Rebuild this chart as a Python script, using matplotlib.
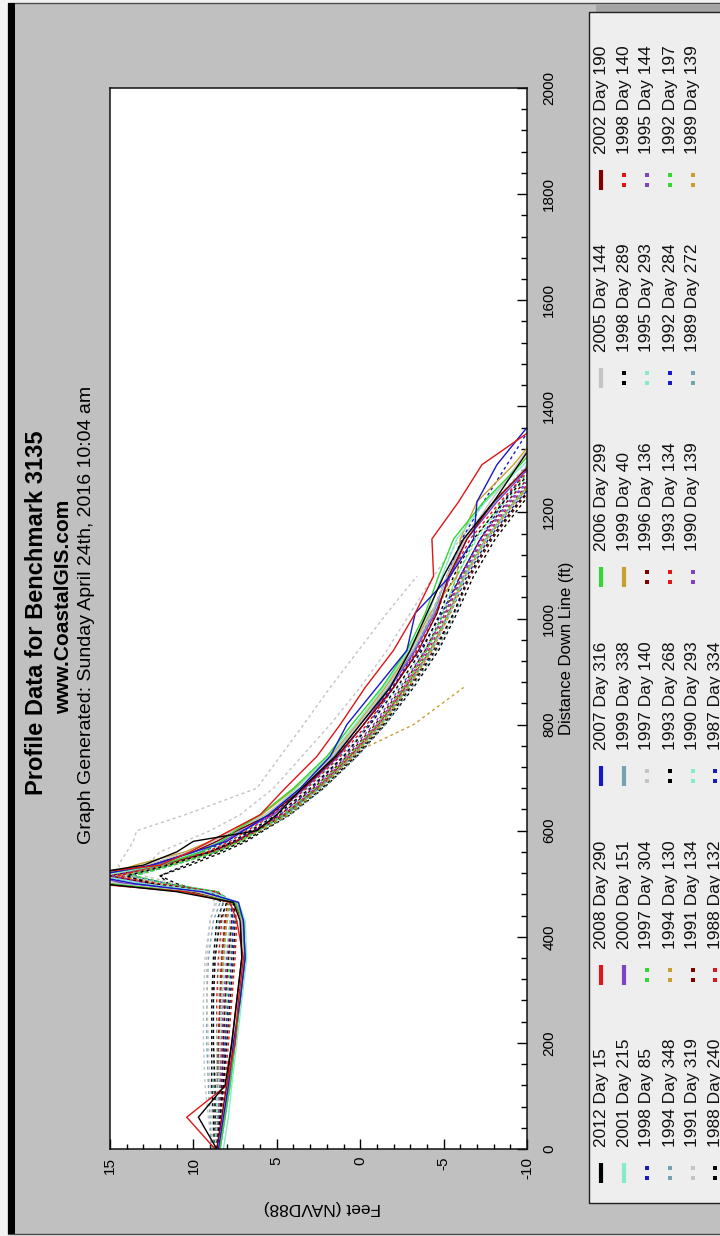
import numpy as np
import matplotlib
matplotlib.use("Agg")
import matplotlib.pyplot as plt
from matplotlib.patches import Rectangle

plt.rcParams['font.family'] = ['Liberation Sans', 'DejaVu Sans']
plt.rcParams['axes.unicode_minus'] = False

W, H, DPI = 720, 1236, 100
nan = np.nan

# ---------------- data ----------------
distance_ft = [0, 60, 120, 200, 280, 360, 430, 465, 485, 500, 515, 535, 560, 580,
               600, 630, 680, 740, 800, 870, 940, 1010, 1080, 1150, 1220, 1290, 1360]

series_labels = [
    "2012 Day 15", "2008 Day 290", "2007 Day 316", "2006 Day 299", "2005 Day 144", "2002 Day 190",
    "2001 Day 215", "2000 Day 151", "1999 Day 338", "1999 Day 40", "1998 Day 289", "1998 Day 140",
    "1998 Day 85", "1997 Day 304", "1997 Day 140", "1996 Day 136", "1995 Day 293", "1995 Day 144",
    "1994 Day 348", "1994 Day 130", "1993 Day 268", "1993 Day 134", "1992 Day 284", "1992 Day 197",
    "1991 Day 319", "1991 Day 134", "1990 Day 293", "1990 Day 139", "1989 Day 272", "1989 Day 139",
    "1988 Day 240", "1988 Day 132", "1987 Day 334",
]
palette = ['#000000', '#e01515', '#1818c8', '#33d633', '#c4c4c4',
           '#800000', '#86ecc8', '#8040c8', '#74a2b0', '#c8a032']
series_colors = [palette[i % 10] for i in range(len(series_labels))]
series_dashed = [False] * 10 + [True] * 23

elev_2012_d15 = [8.6, 9.7, 8.1, 7.7, 7.4, 7.1, 7.2, 7.6, 11.0, 15.5, 17.0, 13.0, 11.0, 10.0, 6.2, 5.0, 3.5, 1.5, 0.0, -1.8, -3.0, -4.0, -5.0, -6.2, -8.0, -9.5, -11.0]
elev_2008_d290 = [8.7, 10.4, 8.0, 7.5, 7.3, 7.0, 7.4, 7.8, 10.5, 16.0, 17.5, 12.0, 10.2, 9.0, 7.8, 6.0, 4.5, 2.6, 1.2, -0.3, -2.0, -3.3, -4.4, -4.3, -5.9, -7.3, -10.5]
elev_2007_d316 = [8.5, 8.2, 7.9, 7.6, 7.2, 6.9, 7.0, 7.3, 9.5, 13.5, 16.0, 12.5, 10.0, 8.0, 7.0, 5.5, 3.6, 1.8, 0.8, -1.0, -2.8, -3.3, -5.4, -6.8, -7.0, -8.2, -10.0]
elev_2006_d299 = [8.4, 8.1, 7.8, 7.5, 7.2, 6.9, 7.0, 7.5, 10.5, 15.0, 16.5, 12.0, 9.5, 8.3, 7.5, 6.0, 4.0, 2.0, 0.5, -1.3, -2.8, -3.9, -4.7, -5.6, -7.4, -9.6, -11.5]
elev_2005_d144 = [8.5, 8.2, 7.9, 7.6, 7.3, 7.0, 7.1, 7.4, 9.8, 14.5, 16.0, 12.8, 10.3, 8.8, 7.6, 5.7, 3.6, 1.7, 0.1, -1.6, -3.1, -4.3, -5.2, -6.3, -7.8, -9.4, -11.0]
elev_2002_d190 = [8.6, 8.3, 8.0, 7.7, 7.4, 7.1, 7.1, 7.5, 10.2, 15.2, 17.0, 12.6, 10.0, 8.6, 7.4, 5.4, 3.4, 1.4, -0.2, -2.0, -3.5, -4.6, -5.3, -6.4, -8.0, -10.2, -12.0]
elev_2001_d215 = [8.2, 7.9, 7.7, 7.4, 7.1, 6.8, 6.9, 7.3, 9.0, 13.0, 15.5, 12.0, 9.8, 8.5, 7.4, 5.6, 3.8, 1.9, 0.3, -1.4, -2.9, -4.1, -4.9, -5.8, -7.5, -9.8, -12.0]
elev_2000_d151 = [8.5, 8.2, 7.9, 7.5, 7.2, 6.9, 7.0, 7.4, 9.6, 14.0, 16.2, 12.2, 9.6, 8.2, 7.1, 5.2, 3.3, 1.3, -0.2, -1.8, -3.3, -4.5, -5.4, -6.4, -8.2, -10.3, -12.0]
elev_1999_d338 = [8.4, 8.1, 7.8, 7.5, 7.2, 6.9, 7.0, 7.4, 9.5, 14.2, 16.4, 12.4, 9.9, 8.4, 7.3, 5.5, 3.5, 1.6, 0.0, -1.7, -3.2, -4.4, -5.2, -6.2, -8.1, -10.1, -12.0]
elev_1999_d40 = [8.5, 8.2, 7.9, 7.6, 7.3, 7.0, 7.0, 7.5, 10.0, 15.0, 15.2, 13.5, 10.5, 9.0, 7.8, 5.9, 3.9, 1.8, 0.2, -1.5, -3.0, -4.2, -5.8, -6.0, -7.0, -9.2, -11.0]
elev_1998_d289 = [8.6, 8.4, 8.2, 8.0, 7.8, 7.6, 7.5, 7.6, 9.0, 12.5, 14.0, 11.5, 9.0, 7.6, 6.6, 5.0, 3.0, 1.0, -0.6, -2.2, -3.7, -4.8, -5.6, -6.8, -8.6, -10.6, -12.0]
elev_1998_d140 = [8.5, 8.3, 8.1, 7.9, 7.7, 7.5, 7.4, 7.6, 8.8, 12.0, 14.5, 12.0, 9.2, 7.8, 6.8, 5.2, 3.2, 1.2, -0.4, -2.0, -3.4, -4.6, -5.4, -6.6, -8.4, -10.4, -12.0]
elev_1998_d85 = [8.6, 8.4, 8.2, 8.1, 7.9, 7.7, 7.6, 7.8, 9.5, 13.0, 15.5, 12.5, 9.5, 8.0, 7.0, 5.3, 3.4, 1.4, -0.2, -1.9, -3.6, -4.9, -6.0, -7.2, -8.6, -10.2, -12.0]
elev_1997_d304 = [8.4, 8.3, 8.2, 8.1, 8.0, 7.8, 7.6, 7.7, 8.5, 11.5, 13.5, 11.2, 8.6, 7.2, 6.2, 4.6, 2.7, 0.7, -1.0, -2.6, -4.0, -5.0, -5.8, -6.9, -8.5, -10.5, -12.0]
elev_1997_d140 = [8.8, 8.9, 9.0, 9.1, 9.2, 9.2, 9.0, 8.6, 9.5, 12.0, 14.0, 14.5, 14.0, 13.6, 13.4, 10.5, 6.2, 4.8, 3.4, 1.8, 0.1, -1.6, -3.4, nan, nan, nan, nan]
elev_1996_d136 = [8.5, 8.4, 8.3, 8.2, 8.1, 7.9, 7.7, 7.6, 8.6, 12.5, 15.0, 12.0, 9.0, 7.4, 6.4, 4.8, 2.8, 0.8, -0.9, -2.5, -3.9, -5.0, -6.0, -7.2, -8.8, -10.8, -12.0]
elev_1995_d293 = [8.7, 8.6, 8.5, 8.4, 8.3, 8.1, 7.8, 7.7, 9.0, 13.5, 15.8, 12.4, 9.3, 7.8, 6.7, 5.0, 3.1, 1.1, -0.6, -2.3, -3.8, -4.9, -5.8, -7.0, -8.7, -10.7, -12.0]
elev_1995_d144 = [8.6, 8.5, 8.4, 8.3, 8.2, 8.0, 7.8, 7.7, 8.8, 12.8, 15.0, 12.0, 9.1, 7.6, 6.5, 4.8, 2.9, 0.9, -0.8, -2.4, -3.9, -5.1, -6.1, -7.3, -9.0, -11.0, -12.0]
elev_1994_d348 = [8.9, 9.0, 9.1, 9.2, 9.2, 9.1, 8.8, 8.4, 9.2, 12.0, 14.2, 11.8, 8.8, 7.3, 6.2, 4.5, 2.5, 0.5, -1.2, -2.8, -4.2, -5.3, -6.2, -7.5, -9.2, -11.2, -12.0]
elev_1994_d130 = [8.6, 8.5, 8.4, 8.4, 8.3, 8.2, 8.0, 7.9, 8.7, 12.2, 14.6, 11.6, 8.7, 7.2, 6.0, 4.3, 2.4, 0.4, -1.3, -2.9, -4.3, -5.4, -6.3, -7.6, -9.3, -11.3, -12.0]
elev_1993_d268 = [8.7, 8.7, 8.7, 8.8, 8.8, 8.7, 8.4, 8.0, 9.5, 11.0, 12.0, 10.5, 8.5, 7.0, 5.9, 4.3, 2.3, 0.3, -1.4, -3.0, -4.5, -5.6, -6.5, -7.8, -9.5, -11.5, -12.0]
elev_1993_d134 = [8.5, 8.5, 8.5, 8.5, 8.4, 8.3, 8.1, 7.9, 8.9, 12.5, 15.2, 12.2, 9.0, 7.5, 6.3, 4.6, 2.6, 0.6, -1.1, -2.7, -4.1, -5.2, -6.1, -7.4, -9.1, -11.1, -12.0]
elev_1992_d284 = [8.6, 8.4, 8.3, 8.2, 8.1, 7.9, 7.7, 7.7, 9.0, 13.0, 15.0, 12.0, 9.0, 7.5, 6.4, 4.8, 2.9, 1.0, -0.5, -2.0, -3.3, -4.3, -5.2, -6.1, -7.4, -8.8, -10.2]
elev_1992_d197 = [8.6, 8.5, 8.5, 8.4, 8.3, 8.2, 8.0, 7.8, 8.8, 12.0, 14.0, 11.4, 8.6, 7.1, 6.0, 4.4, 2.5, 0.5, -1.2, -2.8, -4.2, -5.3, -6.2, -7.5, -9.2, -11.2, -12.0]
elev_1991_d319 = [8.9, 9.1, 9.3, 9.4, 9.4, 9.3, 9.0, 8.7, 9.0, 11.0, 13.0, 12.8, 12.0, 10.5, 9.0, 7.2, 5.2, 3.5, 1.8, 0.0, -1.6, -3.0, -4.4, -6.0, -8.0, -10.0, -12.0]
elev_1991_d134 = [8.6, 8.5, 8.5, 8.5, 8.4, 8.3, 8.1, 7.9, 9.0, 12.2, 14.5, 11.8, 8.8, 7.3, 6.2, 4.5, 2.5, 0.4, -1.3, -2.9, -4.4, -5.6, -6.6, -7.9, -9.6, -11.5, -12.0]
elev_1990_d293 = [8.5, 8.6, 8.6, 8.6, 8.5, 8.4, 8.2, 8.0, 8.8, 11.8, 14.0, 11.5, 8.7, 7.2, 6.1, 4.4, 2.4, 0.4, -1.3, -2.9, -4.3, -5.4, -6.3, -7.6, -9.3, -11.3, -12.0]
elev_1990_d139 = [8.6, 8.5, 8.4, 8.4, 8.3, 8.2, 8.0, 7.8, 8.6, 12.4, 14.8, 11.9, 8.9, 7.4, 6.3, 4.6, 2.7, 0.7, -1.0, -2.6, -4.0, -5.1, -6.0, -7.2, -8.9, -10.9, -12.0]
elev_1989_d272 = [8.7, 8.7, 8.8, 8.8, 8.8, 8.7, 8.5, 8.2, 8.9, 11.5, 13.6, 11.2, 8.5, 7.0, 5.9, 4.2, 2.2, 0.2, -1.5, -3.1, -4.6, -5.7, -6.6, -7.9, -9.6, -11.6, -12.0]
elev_1989_d139 = [8.6, 8.5, 8.4, 8.3, 8.3, 8.2, 8.0, 7.8, 8.8, 12.0, 14.0, 11.6, 8.8, 7.2, 6.1, 4.4, 2.4, 0.8, -3.2, -6.2, nan, nan, nan, nan, nan, nan, nan]
elev_1988_d240 = [8.8, 8.8, 8.9, 8.9, 8.9, 8.8, 8.6, 8.2, 9.8, 11.5, 12.0, 10.2, 8.2, 6.8, 5.8, 4.2, 2.2, 0.2, -1.5, -3.2, -4.7, -5.8, -6.8, -8.1, -9.8, -11.8, -12.0]
elev_1988_d132 = [8.6, 8.6, 8.6, 8.6, 8.6, 8.5, 8.3, 8.0, 8.9, 12.0, 14.4, 11.8, 8.9, 7.4, 6.3, 4.6, 2.6, 0.6, -1.1, -2.7, -4.2, -5.3, -6.3, -7.6, -9.3, -11.3, -12.0]
elev_1987_d334 = [8.7, 8.6, 8.6, 8.5, 8.4, 8.3, 8.1, 7.9, 8.6, 11.5, 13.8, 11.4, 8.7, 7.2, 6.1, 4.5, 2.5, 0.5, -1.2, -2.8, -4.3, -5.4, -6.4, -7.7, -9.4, -11.4, -12.0]

series_elev = [
    elev_2012_d15, elev_2008_d290, elev_2007_d316, elev_2006_d299, elev_2005_d144, elev_2002_d190,
    elev_2001_d215, elev_2000_d151, elev_1999_d338, elev_1999_d40, elev_1998_d289, elev_1998_d140,
    elev_1998_d85, elev_1997_d304, elev_1997_d140, elev_1996_d136, elev_1995_d293, elev_1995_d144,
    elev_1994_d348, elev_1994_d130, elev_1993_d268, elev_1993_d134, elev_1992_d284, elev_1992_d197,
    elev_1991_d319, elev_1991_d134, elev_1990_d293, elev_1990_d139, elev_1989_d272, elev_1989_d139,
    elev_1988_d240, elev_1988_d132, elev_1987_d334,
]

feet_ticks = [15, 10, 5, 0, -5, -10]
feet_tick_labels = ["15", "10", "5", "0", "-5", "-10"]
dist_ticks = [0, 200, 400, 600, 800, 1000, 1200, 1400, 1600, 1800, 2000]
dist_tick_labels = [str(v) for v in dist_ticks]

title = "Profile Data for Benchmark 3135"
site = "www.CoastalGIS.com"
subtitle = "Graph Generated: Sunday April 24th, 2016 10:04 am"
xlabel = "Distance Down Line (ft)"
ylabel = "Feet (NAVD88)"

# ---------------- figure ----------------
fig = plt.figure(figsize=(W / DPI, H / DPI), dpi=DPI, facecolor='#f2f2f2')

bg = fig.add_axes([0, 0, 1, 1], zorder=0)
bg.set_xlim(0, W)
bg.set_ylim(H, 0)
bg.axis('off')

bg.add_patch(Rectangle((8, 3), 730, 1231, facecolor='#c0c0c0', edgecolor='#4a4a4a', lw=1))
bg.add_patch(Rectangle((8, 3), 7, 1231, facecolor='#000000', edgecolor='none'))

# titles (rotated chart)
bg.text(37, 613, title, rotation=90, ha='center', va='center', fontsize=17, fontweight='bold')
bg.text(64, 607, site, rotation=90, ha='center', va='center', fontsize=15, fontweight='bold')
bg.text(87, 615, subtitle, rotation=90, ha='center', va='center', fontsize=14)

# axis labels
bg.text(567, 648, xlabel, rotation=90, ha='center', va='center', fontsize=12)
bg.text(322, 1208, ylabel, rotation=180, ha='center', va='center', fontsize=12.5)

# legend box with shadow
bg.add_patch(Rectangle((596, 5), 150, 1191, facecolor='#a4a4a4', edgecolor='none'))
bg.add_patch(Rectangle((589, 12), 150, 1191, facecolor='#eeeeee', edgecolor='#202020', lw=1))

legend_row_x = [601, 623.5, 646.5, 669.5, 692.5, 715]
legend_col_y = [1173, 975, 776, 577, 378, 180]
for k, lab in enumerate(series_labels):
    r, c = divmod(k, 6)
    xr, yc = legend_row_x[r], legend_col_y[c]
    col = series_colors[k]
    if series_dashed[k]:
        bg.plot([xr, xr], [yc - 5, yc + 5], ls='none', marker='s', ms=2.3, color=col, mew=0)
    else:
        bg.plot([xr, xr], [yc - 10, yc + 10], color=col, lw=3, solid_capstyle='butt')
    bg.text(xr + 0.5, yc - 26, lab, rotation=90, ha='center', va='bottom', fontsize=12.5,
            color='#111111')

# main plot (rotated: feet horizontal, distance vertical)
ax = fig.add_axes([110 / W, (H - 1149) / H, 417 / W, 1061 / H], zorder=1)
ax.set_facecolor('white')
ax.set_xlim(15, -10)
ax.set_ylim(0, 2000)

for k in range(len(series_labels) - 1, -1, -1):
    ls = (0, (2.2, 2.2)) if series_dashed[k] else '-'
    ax.plot(series_elev[k], distance_ft, color=series_colors[k], lw=1.0, ls=ls)

for sp in ax.spines.values():
    sp.set_linewidth(1.1)
    sp.set_color('#111111')

ax.xaxis.set_ticks_position('bottom')
ax.yaxis.set_ticks_position('right')
ax.set_xticks(feet_ticks, labels=feet_tick_labels, rotation=90, ha='center', va='top')
ax.set_xticks(np.arange(-10, 16, 1), minor=True)
ax.set_yticks(dist_ticks, labels=dist_tick_labels, rotation=90, ha='left', va='center')
ax.set_yticks(np.arange(0, 2001, 40), minor=True)
ax.tick_params(axis='x', which='major', direction='in', length=7, width=1, pad=5.5,
               labelsize=11, bottom=True, top=False)
ax.tick_params(axis='x', which='minor', direction='in', length=3.8, width=1, bottom=True, top=False)
ax.tick_params(axis='y', which='major', direction='in', length=7, width=1, pad=11,
               labelsize=11, right=True, left=False, labelright=True, labelleft=False)
ax.tick_params(axis='y', which='minor', direction='in', length=4.2, width=1, right=True, left=False)

fig.savefig("out.png", dpi=DPI, facecolor=fig.get_facecolor())
